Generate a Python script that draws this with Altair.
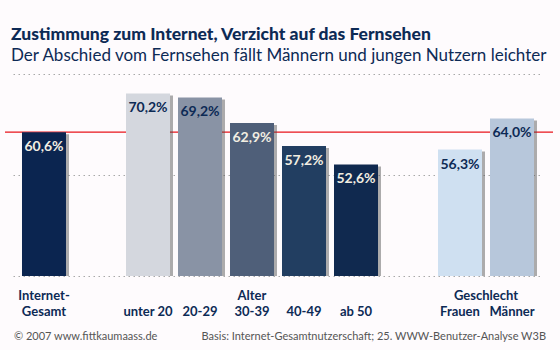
import altair as alt
import pandas as pd

# ---- data ----
categories = ["Gesamt", "unter 20", "20-29", "30-39", "40-49", "ab 50", "Frauen", "Männer"]
values = [60.6, 70.2, 69.2, 62.9, 57.2, 52.6, 56.3, 64.0]
value_labels = ["60,6%", "70,2%", "69,2%", "62,9%", "57,2%", "52,6%", "56,3%", "64,0%"]
line1_labels = ["Internet-", "", "", "Alter", "", "", "", ""]
line2_labels = ["Gesamt", "unter 20", "20-29", "30-39", "40-49", "ab 50", "Frauen", "Männer"]
slots = ["Gesamt", "_gap1", "unter 20", "20-29", "30-39", "40-49", "ab 50", "_gap2", "Frauen", "Männer"]
average = 60.6
grid_values = [25, 50, 75]

# ---- styles ----
bar_colors = ["#0b2550", "#d4d7de", "#8993a5", "#4f5f79", "#223e61", "#10294f", "#cfe0f1", "#b7c7db"]
label_colors = ["#f2eee2", "#0d2a55", "#0d2a55", "#f2eee2", "#f2eee2", "#f2eee2", "#0d2a55", "#0d2a55"]
NAVY = "#0d2a55"
FONT = "Lato"

df = pd.DataFrame({
    "cat": categories,
    "lcat": categories,
    "value": values,
    "vlabel": value_labels,
    "l1": line1_labels,
    "l2": line2_labels,
})

xscale = alt.Scale(domain=slots, paddingInner=0.154, paddingOuter=0.173)
yscale = alt.Scale(domain=[25, 75], nice=False, zero=False)

x_enc = alt.X("cat:N", scale=xscale, axis=None)
y_enc = alt.Y("value:Q", scale=yscale,
              axis=alt.Axis(values=grid_values, grid=True, gridDash=[1.5, 3.5],
                            gridColor="#a8a8a8", gridWidth=1, domain=False, ticks=False,
                            labels=False, title=None))

base = alt.Chart(df)

grid = base.mark_bar(opacity=0).encode(x=x_enc, y=y_enc, y2=alt.datum(25))

redline = alt.Chart(pd.DataFrame({"avg": [average]})).mark_rule(
    color="#e8141b", strokeWidth=1.3
).encode(y=alt.Y("avg:Q", scale=yscale), x=alt.value(-8), x2=alt.value(540))

shadow = base.mark_bar(color="#4a4a4a", opacity=0.45, xOffset=3, yOffset=2, size=44).encode(
    x=x_enc, y=alt.Y("value:Q", scale=yscale), y2=alt.datum(25)
)

bars = base.mark_bar(size=44).encode(
    x=x_enc, y=alt.Y("value:Q", scale=yscale), y2=alt.datum(25),
    color=alt.Color("cat:N", scale=alt.Scale(domain=categories, range=bar_colors), legend=None),
)

vlabels = base.mark_text(font=FONT, fontWeight="bold", fontSize=14, baseline="middle", dy=15).encode(
    x=x_enc, y=alt.Y("value:Q", scale=yscale), text="vlabel:N",
    fill=alt.Fill("lcat:N", scale=alt.Scale(domain=categories, range=label_colors), legend=None),
)

row1 = base.mark_text(font=FONT, fontWeight="bold", fontSize=13, color=NAVY, baseline="middle").encode(
    x=x_enc, y=alt.value(222), text="l1:N"
)
row2 = base.mark_text(font=FONT, fontWeight="bold", fontSize=13, color=NAVY, baseline="middle").encode(
    x=x_enc, y=alt.value(238), text="l2:N"
)
geschlecht = alt.Chart(pd.DataFrame({"cat": ["Frauen"], "t": ["Geschlecht"]})).mark_text(
    font=FONT, fontWeight="bold", fontSize=13, color=NAVY, baseline="middle", dx=4
).encode(x=alt.X("cat:N", scale=xscale, axis=None, bandPosition=1), y=alt.value(222), text="t:N")

footer_left = alt.Chart(pd.DataFrame({"t": ["© 2007 www.fittkaumaass.de"]})).mark_text(
    font=FONT, fontSize=11, color="#555555", align="left", baseline="middle"
).encode(x=alt.value(1), y=alt.value(263), text="t:N")
footer_right = alt.Chart(pd.DataFrame({"t": ["Basis: Internet-Gesamtnutzerschaft; 25. WWW-Benutzer-Analyse W3B"]})).mark_text(
    font=FONT, fontSize=11, color="#555555", align="right", baseline="middle"
).encode(x=alt.value(533), y=alt.value(263), text="t:N")

chart = alt.layer(
    grid, redline, shadow, bars, vlabels, row1, row2, geschlecht, footer_left, footer_right
).resolve_scale(color="independent", fill="independent").properties(
    width=530, height=202,
    autosize=alt.AutoSizeParams(type="none"),
    padding={"left": 13, "top": 74, "right": 17, "bottom": 74},
    background="#fefbfd",
    title=alt.TitleParams(
        "Zustimmung zum Internet, Verzicht auf das Fernsehen",
        subtitle="Der Abschied vom Fernsehen fällt Männern und jungen Nutzern leichter",
        anchor="start", frame="group", font=FONT, fontSize=17.5, fontWeight=900, color=NAVY,
        subtitleFont=FONT, subtitleFontSize=17, subtitleColor=NAVY, subtitleFontWeight="normal",
        subtitlePadding=5, offset=10, dx=-2,
    ),
).configure_view(stroke=None)

chart.save("out.html", embed_options={"renderer": "svg", "actions": False})
